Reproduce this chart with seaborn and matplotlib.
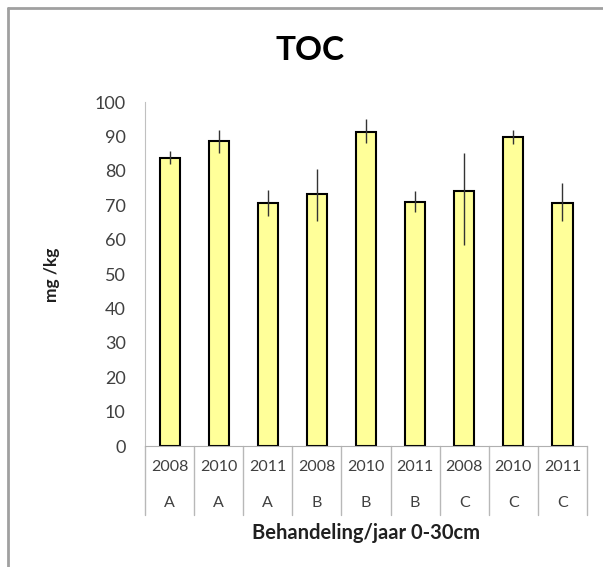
import matplotlib
matplotlib.use("Agg")
import matplotlib.pyplot as plt
import seaborn as sns
import pandas as pd
from matplotlib.lines import Line2D

# values
years = ["2008", "2010", "2011", "2008", "2010", "2011", "2008", "2010", "2011"]
groups = ["A", "A", "A", "B", "B", "B", "C", "C", "C"]
toc = [83.6, 88.7, 70.7, 73.2, 91.4, 71.0, 74.2, 89.9, 70.7]
err_plus = [2.1, 3.3, 3.7, 7.2, 3.6, 3.0, 11.1, 2.1, 5.7]
err_minus = [1.6, 3.4, 3.7, 7.7, 3.4, 2.9, 15.8, 2.2, 5.2]

df = pd.DataFrame({"cat": [g + y for g, y in zip(groups, years)], "toc": toc})

sns.set_style("white")
plt.rcParams["font.family"] = ["Lato", "DejaVu Sans"]

fig = plt.figure(figsize=(6.03, 5.67), dpi=100)
ax = fig.add_axes([0.2405, 0.2134, 0.733, 0.6067])

sns.barplot(data=df, x="cat", y="toc", color="#ffff99", saturation=1,
            width=0.41, edgecolor="black", linewidth=1.5, errorbar=None, ax=ax)
xs = [p.get_x() + p.get_width() / 2 for p in ax.patches]
ax.errorbar(xs, toc, yerr=[err_minus, err_plus], fmt="none", ecolor="#333333",
            elinewidth=1, capsize=0)

ax.set_ylim(0, 100)
ax.set_xlim(-0.5, len(toc) - 0.5)
ax.set_yticks(range(0, 101, 10))
ax.tick_params(axis="y", length=0, pad=14, labelsize=13, labelcolor="#404040")
ax.set_xticks([])
ax.set_xlabel("")
ax.set_ylabel("")
for s in ["top", "right"]:
    ax.spines[s].set_visible(False)
ax.spines["left"].set_color("#c0c0c0")
ax.spines["bottom"].set_color("#b0b0b0")

# two-level category labels, Excel style
trans = ax.get_xaxis_transform()
for i, (y, g) in enumerate(zip(years, groups)):
    ax.text(i, -0.061, y, transform=trans, ha="center", va="center",
            fontsize=11.5, color="#404040")
    ax.text(i, -0.166, g, transform=trans, ha="center", va="center",
            fontsize=11.5, color="#404040")
for b in range(len(toc) + 1):
    ax.add_line(Line2D([b - 0.5, b - 0.5], [0, -0.2], transform=trans,
                       color="#b8b8b8", lw=1, clip_on=False))

ax.text(0.5, -0.253, "Behandeling/jaar 0-30cm", transform=ax.transAxes,
        ha="center", va="center", fontsize=14.5, fontweight="bold", color="#202020")
fig.text(0.086, 0.515, "mg /kg", rotation=90, ha="center", va="center",
         fontsize=12.5, fontweight="bold", color="#202020")
fig.text(0.514, 1 - 50 / 567, "TOC", ha="center", va="center",
         fontsize=24, fontweight="bold", color="black")

# chart frame
fig.add_artist(Line2D([8 / 603, 1], [1 - 8 / 567, 1 - 8 / 567],
                      transform=fig.transFigure, color="#a0a0a0", lw=2))
fig.add_artist(Line2D([8 / 603, 8 / 603], [1 - 8 / 567, 0],
                      transform=fig.transFigure, color="#a0a0a0", lw=2))

fig.savefig("out.png", dpi=100)
